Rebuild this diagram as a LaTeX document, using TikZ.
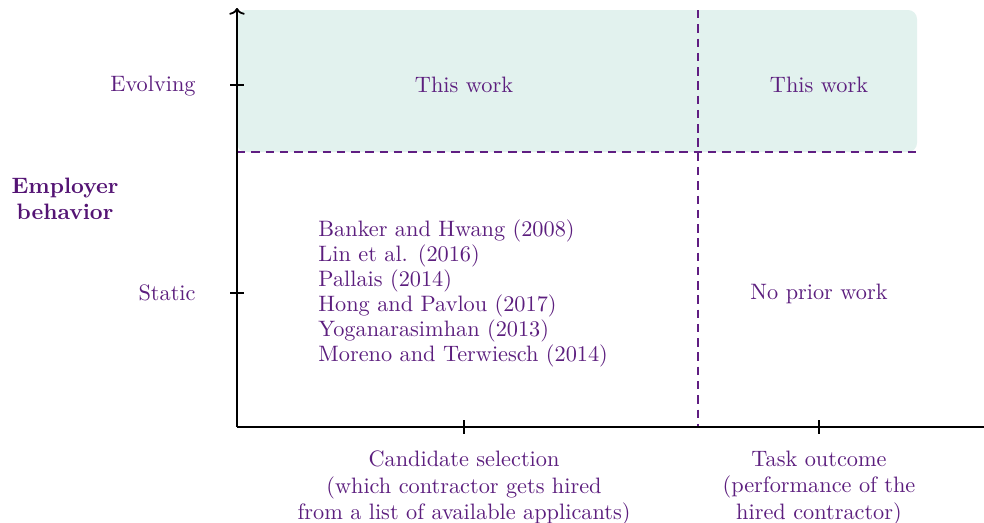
\documentclass[tikz,border=0pt]{standalone}
\usetikzlibrary{arrows.meta}
\definecolor{txtpurple}{RGB}{92,30,126}
\definecolor{dashpurple}{RGB}{96,30,130}
\definecolor{boldpurple}{RGB}{84,20,116}
\definecolor{tealshade}{RGB}{226,242,238}
\tikzset{
  lbl/.style={text=txtpurple, inner sep=0pt, font=\fontsize{10}{12}\selectfont},
  divider/.style={draw=dashpurple, line width=0.95pt, dash pattern=on 3.8pt off 2.6pt},
  axisline/.style={draw=black, line width=0.8pt},
  tickmark/.style={draw=black, line width=0.5pt}
}
\begin{document}
\begin{tikzpicture}[x=0.4485pt,y=-0.4485pt]
\useasboundingbox (0,0) rectangle (984,523);
% shaded region
\fill[fill=tealshade, rounded corners=4pt] (237,10) rectangle (917,152);
% coordinates
\coordinate (o) at (237,427);
\coordinate (ytop) at (237,8);
\coordinate (xend) at (984,427);
\coordinate (hl) at (237,152);
\coordinate (hr) at (917,152);
\coordinate (vt) at (698,10);
\coordinate (vb) at (698,427);
% dividers
\draw[divider] (hl) -- (hr);
\draw[divider] (vt) -- (vb);
% axes
\draw[axisline, -{To[length=3pt,width=7pt]}] (o) -- (ytop);
\draw[axisline] (o) -- (xend);
% ticks
\coordinate (ty1a) at (230,85); \coordinate (ty1b) at (244,85);
\coordinate (ty2a) at (230,293); \coordinate (ty2b) at (244,293);
\coordinate (tx1a) at (464,420); \coordinate (tx1b) at (464,434);
\coordinate (tx2a) at (819,420); \coordinate (tx2b) at (819,434);
\draw[tickmark] (ty1a) -- (ty1b);
\draw[tickmark] (ty2a) -- (ty2b);
\draw[tickmark] (tx1a) -- (tx1b);
\draw[tickmark] (tx2a) -- (tx2b);
% axis labels
\node[lbl, anchor=east] (evolving) at (196,86) {Evolving};
\node[lbl, anchor=east] (static) at (196,293) {Static};
\node[lbl, align=center, text=boldpurple, font=\fontsize{10}{11.4}\selectfont\bfseries] (emp) at (65,199) {Employer\\behavior};
\node[lbl, align=center, font=\fontsize{10}{11.7}\selectfont] (cand) at (464,488) {Candidate selection\\(which contractor gets hired\\from a list of available applicants)};
\node[lbl, align=center, font=\fontsize{10}{11.7}\selectfont] (task) at (819,488) {Task outcome\\(performance of the\\hired contractor)};
% cell texts
\node[lbl] (tw1) at (464,85) {This work};
\node[lbl] (tw2) at (819,85) {This work};
\node[lbl] (npw) at (819,294) {No prior work};
\node[lbl, anchor=west, align=left, font=\fontsize{10}{11.2}\selectfont] (lit) at (318,293) {Banker and Hwang (2008)\\Lin et al. (2016)\\Pallais (2014)\\Hong and Pavlou (2017)\\Yoganarasimhan (2013)\\Moreno and Terwiesch (2014)};
\end{tikzpicture}
\end{document}
